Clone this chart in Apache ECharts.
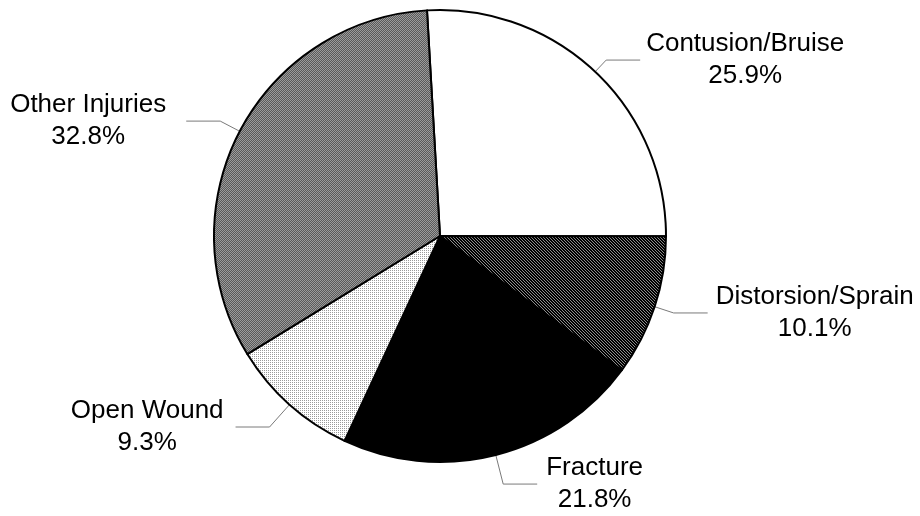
<!DOCTYPE html>
<html>
<head>
<meta charset="utf-8">
<script src="https://cdn.jsdelivr.net/npm/echarts@6/dist/echarts.min.js"></script>
<style>html,body{margin:0;padding:0;background:#fff}#c{width:920px;height:516px}</style>
</head>
<body>
<div id="c"></div>
<script>
var categories = ['Contusion/Bruise', 'Distorsion/Sprain', 'Fracture', 'Open Wound', 'Other Injuries'];
var percents = [25.9, 10.1, 21.8, 9.3, 32.8];

function pattern(size, bg, fg, pts) {
  var c = document.createElement('canvas');
  c.width = size; c.height = size;
  var g = c.getContext('2d');
  g.fillStyle = bg; g.fillRect(0, 0, size, size);
  g.fillStyle = fg;
  pts.forEach(function (p) { g.fillRect(p[0], p[1], 1, 1); });
  return { image: c, repeat: 'repeat' };
}
var fills = [
  '#ffffff',
  pattern(3, '#000000', '#8c8c8c', [[0,0],[1,1],[2,2]]),
  '#000000',
  pattern(2, '#ffffff', '#9a9a9a', [[0,0]]),
  pattern(2, '#5a5a5a', '#9c9c9c', [[0,0],[1,1]])
];
var lineLen = [16, 20, 30, 30, 22];
var labelGap = [6, 8, 9, 12, 20];

var chart = echarts.init(document.getElementById('c'));
chart.setOption({
  animation: false,
  backgroundColor: '#ffffff',
  series: [{
    type: 'pie',
    center: [440, 236],
    radius: 226,
    startAngle: 93.3,
    clockwise: true,
    avoidLabelOverlap: false,
    itemStyle: { borderColor: '#000', borderWidth: 2 },
    emphasis: { disabled: true },
    label: {
      show: true,
      position: 'outside',
      fontFamily: 'Liberation Sans, Arial, sans-serif',
      fontSize: 26,
      color: '#000',
      lineHeight: 32,
      formatter: function (p) { return '{n|' + p.name + '}\n{p|' + p.value.toFixed(1) + '%}'; },
      rich: {
        n: { align: 'center', fontSize: 26, lineHeight: 32, fontFamily: 'Liberation Sans, Arial, sans-serif', color: '#000' },
        p: { align: 'center', fontSize: 26, lineHeight: 32, fontFamily: 'Liberation Sans, Arial, sans-serif', color: '#000' }
      }
    },
    labelLine: { show: true, length: 20, length2: 34, smooth: false, lineStyle: { color: '#7a7a7a', width: 1 } },
    data: categories.map(function (n, i) {
      return {
        name: n,
        value: percents[i],
        itemStyle: { color: fills[i] },
        label: { distanceToLabelLine: labelGap[i] },
        labelLine: { length: lineLen[i], length2: 34 }
      };
    })
  }]
});
</script>
</body>
</html>
